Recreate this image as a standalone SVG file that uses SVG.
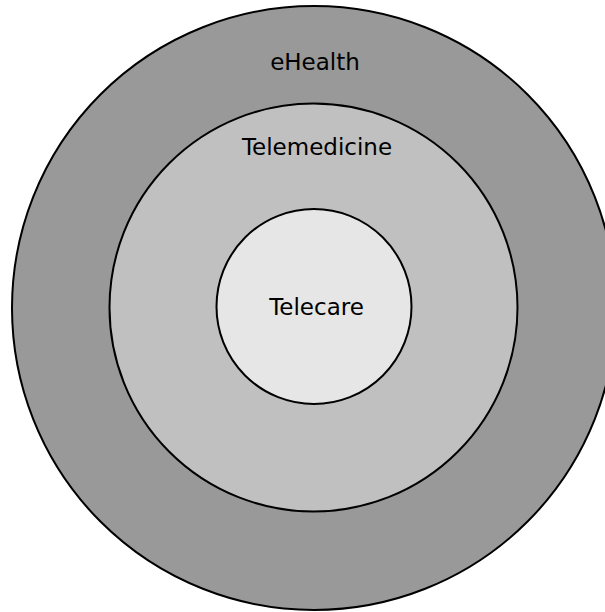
<svg xmlns="http://www.w3.org/2000/svg" width="605" height="612" viewBox="0 0 605 612">
<style>
.ring{stroke:#000;stroke-width:2}
.lbl{font-family:"DejaVu Sans",Verdana,sans-serif;font-size:23px;fill:#000;text-anchor:middle}
</style>
<rect width="605" height="612" fill="#fff"/>
<g id="ehealth">
<circle class="ring" cx="314" cy="308" r="302" fill="#999999"/>
<text class="lbl" x="315" y="70">eHealth</text>
</g>
<g id="telemedicine">
<circle class="ring" cx="313.5" cy="307.5" r="204" fill="#c0c0c0"/>
<text class="lbl" x="317" y="155">Telemedicine</text>
</g>
<g id="telecare">
<circle class="ring" cx="314" cy="306.5" r="97.5" fill="#e6e6e6"/>
<text class="lbl" x="316.5" y="315">Telecare</text>
</g>
<g id="connectors"></g>
</svg>
